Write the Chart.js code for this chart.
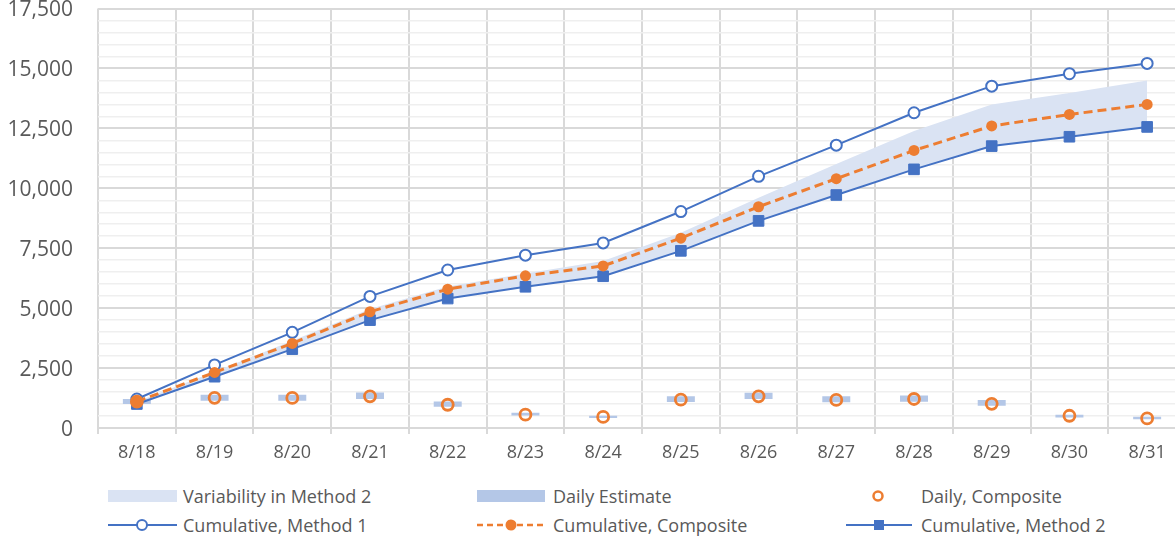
<!DOCTYPE html>
<html>
<head>
<meta charset="utf-8">
<script src="https://cdn.jsdelivr.net/npm/chart.js@4/dist/chart.umd.min.js"></script>
<style>
  html, body { margin: 0; padding: 0; background: #fff; overflow: hidden; }
  body { width: 1175px; height: 538px; position: relative; font-family: "Open Sans", "Noto Sans", sans-serif; }
  #wrap { position: absolute; left: 0; top: 0; width: 1200px; height: 470px; }
  .lg { position: absolute; height: 24px; display: flex; align-items: center; color: #595959; font-size: 18px; white-space: nowrap; }
  .lg svg { position: absolute; top: 0; }
</style>
</head>
<body>
<div id="wrap"><canvas id="c" width="1200" height="470"></canvas></div>
<div id="legend"></div>
<script>
(function () {
  'use strict';

  var dates = ['8/18', '8/19', '8/20', '8/21', '8/22', '8/23', '8/24', '8/25', '8/26', '8/27', '8/28', '8/29', '8/30', '8/31'];
  var cumMethod1 = [1210, 2630, 3990, 5490, 6590, 7210, 7720, 9030, 10500, 11800, 13150, 14260, 14780, 15210];
  var cumComposite = [1100, 2320, 3530, 4850, 5790, 6350, 6760, 7920, 9230, 10400, 11580, 12600, 13080, 13500];
  var cumMethod2 = [1000, 2140, 3290, 4500, 5400, 5890, 6330, 7390, 8640, 9720, 10790, 11760, 12150, 12560];
  var method2Upper = [1100, 2350, 3640, 4960, 5900, 6440, 6970, 8150, 9610, 11010, 12390, 13500, 13980, 14500];
  var dailyLow = [1000, 1140, 1140, 1210, 890, 525, 415, 1085, 1210, 1070, 1100, 930, 440, 360];
  var dailyHigh = [1210, 1390, 1390, 1480, 1110, 640, 510, 1320, 1470, 1320, 1360, 1170, 555, 470];
  var dailyComposite = [1100, 1260, 1255, 1320, 970, 555, 460, 1180, 1320, 1170, 1210, 1010, 510, 400];

  var BLUE = '#4472c4', ORANGE = '#ed7d31', BAND = '#dae3f3', BAR = '#b4c7e7';
  var TEXT = '#595959', GRID = '#d9d9d9', MINOR = '#efefef';

  var dailyRanges = dailyLow.map(function (lo, i) { return [lo, dailyHigh[i]]; });

  var datasets = [
    { // 0
      type: 'line', label: 'Cumulative, Method 2', data: cumMethod2, order: 4,
      borderColor: BLUE, backgroundColor: BLUE, borderWidth: 2,
      pointStyle: 'rect', pointRadius: 7.5, pointBorderWidth: 1, fill: false
    },
    { // 1
      type: 'line', label: 'Variability in Method 2', data: method2Upper, order: 10,
      borderWidth: 0, pointRadius: 0, backgroundColor: BAND, fill: { target: 0 }
    },
    { // 2
      type: 'bar', label: 'Daily Estimate', data: dailyRanges, order: 9,
      backgroundColor: BAR, borderWidth: 0, categoryPercentage: 1, barPercentage: 0.36
    },
    { // 3
      type: 'line', label: 'Cumulative, Method 1', data: cumMethod1, order: 3,
      borderColor: BLUE, backgroundColor: '#fff', borderWidth: 2,
      pointStyle: 'circle', pointRadius: 5.5, pointBorderWidth: 2, fill: false
    },
    { // 4
      type: 'line', label: 'Cumulative, Composite', data: cumComposite, order: 2,
      borderColor: ORANGE, backgroundColor: ORANGE, borderWidth: 3, borderDash: [9, 5],
      pointStyle: 'circle', pointRadius: 5.5, pointBorderWidth: 0, fill: false
    },
    { // 5
      type: 'line', label: 'Daily, Composite', data: dailyComposite, order: 1, showLine: false,
      borderColor: ORANGE, backgroundColor: 'rgba(255,255,255,0)',
      pointStyle: 'circle', pointRadius: 5.5, pointBorderWidth: 2.8
    }
  ];

  function isMajor(ctx) { return ctx.tick && ctx.tick.value % 2500 === 0; }

  new Chart(document.getElementById('c'), {
    type: 'bar',
    data: { labels: dates, datasets: datasets },
    options: {
      responsive: false,
      animation: false,
      devicePixelRatio: 1,
      layout: { padding: { top: 7, right: 14, left: 0, bottom: 0 } },
      plugins: { legend: { display: false }, tooltip: { enabled: false } },
      scales: {
        x: {
          offset: true,
          grid: { offset: true, color: GRID, lineWidth: 2, drawTicks: true, tickLength: 6, tickColor: GRID },
          border: { display: false },
          ticks: { color: TEXT, font: { family: 'Open Sans', size: 18 }, padding: 8, maxRotation: 0 },
          afterFit: function (s) { s.height = 42; s.paddingLeft = 0; s.paddingRight = 0; }
        },
        y: {
          min: 0, max: 17500,
          grid: {
            drawTicks: false,
            color: function (ctx) { return isMajor(ctx) ? GRID : MINOR; },
            lineWidth: function (ctx) { return isMajor(ctx) ? 2 : 1.5; }
          },
          border: { display: false },
          ticks: {
            stepSize: 500, autoSkip: false, maxTicksLimit: 100, padding: 25, labelOffset: 2,
            color: TEXT, font: { family: 'Open Sans', size: 21 },
            callback: function (v) { return v % 2500 === 0 ? v.toLocaleString('en-US') : ''; }
          },
          afterFit: function (s) { s.width = 98; s.paddingTop = 0; s.paddingBottom = 0; }
        }
      }
    }
  });

  // legend, laid out in three columns like the original
  var legendItems = [
    { x: 108, y: 484, text: 'Variability in Method 2', tx: 183,
      svg: '<rect x="0" y="6" width="69" height="12" fill="' + BAND + '"/>' },
    { x: 477, y: 484, text: 'Daily Estimate', tx: 553,
      svg: '<rect x="0" y="6" width="68" height="12" fill="' + BAR + '"/>' },
    { x: 846, y: 484, text: 'Daily, Composite', tx: 921,
      svg: '<circle cx="32" cy="12" r="4.5" fill="none" stroke="' + ORANGE + '" stroke-width="2.5"/>' },
    { x: 108, y: 513, text: 'Cumulative, Method 1', tx: 183,
      svg: '<line x1="0" y1="12" x2="69" y2="12" stroke="' + BLUE + '" stroke-width="2"/>' +
           '<circle cx="34" cy="12" r="5" fill="#fff" stroke="' + BLUE + '" stroke-width="2"/>' },
    { x: 477, y: 513, text: 'Cumulative, Composite', tx: 553,
      svg: '<line x1="0" y1="12" x2="68" y2="12" stroke="' + ORANGE + '" stroke-width="2.5" stroke-dasharray="6 4"/>' +
           '<circle cx="34" cy="12" r="5.5" fill="' + ORANGE + '"/>' },
    { x: 846, y: 513, text: 'Cumulative, Method 2', tx: 921,
      svg: '<line x1="0" y1="12" x2="66" y2="12" stroke="' + BLUE + '" stroke-width="2"/>' +
           '<rect x="28" y="7" width="10" height="10" fill="' + BLUE + '"/>' }
  ];

  var legend = document.getElementById('legend');
  legendItems.forEach(function (it) {
    var sym = document.createElement('div');
    sym.className = 'lg';
    sym.style.left = it.x + 'px';
    sym.style.top = it.y + 'px';
    sym.innerHTML = '<svg width="72" height="24" xmlns="http://www.w3.org/2000/svg">' + it.svg + '</svg>';
    legend.appendChild(sym);

    var lab = document.createElement('div');
    lab.className = 'lg';
    lab.style.left = it.tx + 'px';
    lab.style.top = it.y + 'px';
    lab.textContent = it.text;
    legend.appendChild(lab);
  });
})();
</script>
</body>
</html>
